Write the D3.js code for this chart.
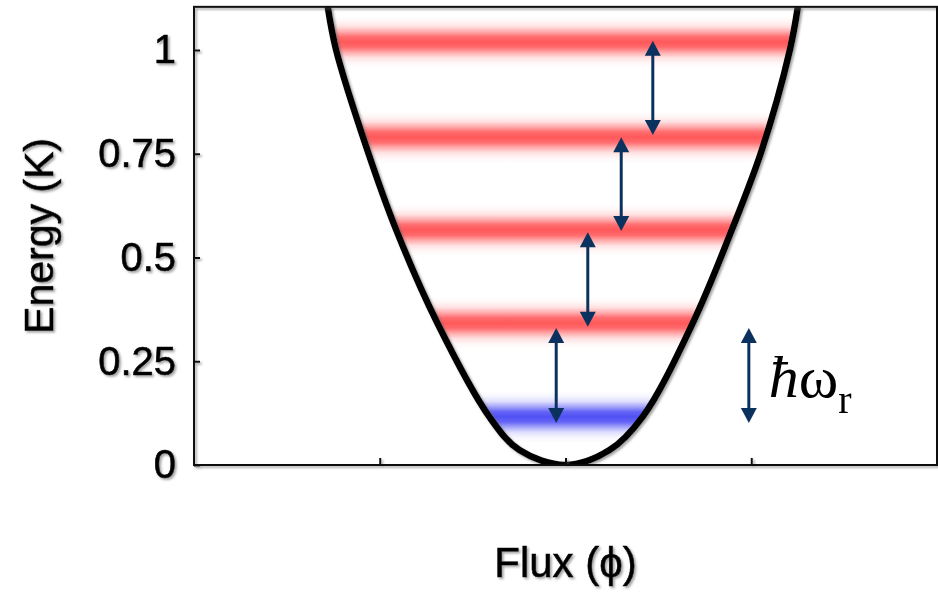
<!DOCTYPE html>
<html>
<head>
<meta charset="utf-8">
<script src="https://cdn.jsdelivr.net/npm/d3@7"></script>
<style>
  body { margin: 0; background: #fff; }
  svg { display: block; }
</style>
</head>
<body>
<div id="chart"></div>
<script>
// potential curve (flux, energy)
var curveFlux   = [-1.28, -1.235, -1.067, -0.911, -0.69, -0.41, -0.248, 0, 0.237, 0.415, 0.685, 0.895, 1.057, 1.208, 1.251];
var curveEnergy = [1.104, 1.0, 0.759, 0.566, 0.342, 0.116, 0.036, 0, 0.036, 0.116, 0.342, 0.566, 0.759, 1.0, 1.104];

// energy levels (first one is the ground state, drawn in blue)
var levels = [0.116, 0.342, 0.566, 0.790, 1.019];
var levelKind = ["ground", "excited", "excited", "excited", "excited"];

// transition arrows between neighbouring levels
var arrowFlux = [-0.05, 0.12, 0.30, 0.47];
var arrowFrom = [0.101, 0.333, 0.564, 0.795];
var arrowTo   = [0.330, 0.561, 0.790, 1.022];

// the lone arrow next to the hbar omega label
var keyFlux = 0.987, keyFrom = 0.101, keyTo = 0.330;

var yTicks = [0, 0.25, 0.5, 0.75, 1];
var xTicks = [-1, 0, 1];
var xDomain = [-2, 2], yMax = 1.104;

var width = 938, height = 600;

var svg = d3.select("#chart").append("svg")
    .attr("width", width)
    .attr("height", height);

var x = d3.scaleLinear().domain(xDomain).range([194, 937]);
var y = d3.scaleLinear().domain([0, 1]).range([465, 50]);

var defs = svg.append("defs");

// grey shadow used on the axes, curve and labels
var shadow = defs.append("filter")
    .attr("id", "shadow")
    .attr("filterUnits", "userSpaceOnUse")
    .attr("x", 0).attr("y", 0)
    .attr("width", width).attr("height", height);
shadow.append("feDropShadow")
    .attr("dx", 1.8).attr("dy", 1.8)
    .attr("stdDeviation", 0.8)
    .attr("flood-color", "#666")
    .attr("flood-opacity", 0.6);

// vertical fades for the bands
var bandColors = { ground: "#5050f5", excited: "#ff585a" };
var bandStops = [[0, 0], [0.1, 0.05], [0.2, 0.18], [0.3, 0.5], [0.4, 0.88], [0.5, 1],
                 [0.6, 0.88], [0.7, 0.5], [0.8, 0.18], [0.9, 0.05], [1, 0]];
Object.keys(bandColors).forEach(function(k) {
  var g = defs.append("linearGradient")
      .attr("id", "band-" + k)
      .attr("x1", 0).attr("y1", 0).attr("x2", 0).attr("y2", 1);
  bandStops.forEach(function(s) {
    g.append("stop")
      .attr("offset", s[0])
      .attr("stop-color", bandColors[k])
      .attr("stop-opacity", s[1]);
  });
});

var pts = curveFlux.map(function(f, i) { return [f, curveEnergy[i]]; });

var line = d3.line()
    .x(function(d) { return x(d[0]); })
    .y(function(d) { return y(d[1]); })
    .curve(d3.curveCatmullRom.alpha(0.5));

// inside of the well, bands are clipped to it
defs.append("clipPath")
    .attr("id", "well")
  .append("path")
    .attr("d", line(pts) + "Z");

defs.append("clipPath")
    .attr("id", "plot")
  .append("rect")
    .attr("x", x(xDomain[0])).attr("y", y(yMax))
    .attr("width", x(xDomain[1]) - x(xDomain[0]))
    .attr("height", y(0) - y(yMax));

var bandH = 52;
svg.append("g")
    .attr("clip-path", "url(#well)")
  .selectAll("rect")
  .data(levels)
  .join("rect")
    .attr("x", x(xDomain[0]))
    .attr("width", x(xDomain[1]) - x(xDomain[0]))
    .attr("y", function(d) { return y(d) - bandH / 2; })
    .attr("height", bandH)
    .attr("fill", function(d, i) { return "url(#band-" + levelKind[i] + ")"; });

// the well itself
svg.append("g")
    .attr("clip-path", "url(#plot)")
  .append("path")
    .attr("filter", "url(#shadow)")
    .attr("d", line(pts))
    .attr("fill", "none")
    .attr("stroke", "#000")
    .attr("stroke-width", 6.5)
    .attr("stroke-linejoin", "round");

// axes: left with labels, bottom ticks only, plus the top/right frame
var frame = svg.append("g").attr("filter", "url(#shadow)");
var sans = "'Liberation Sans', Arial, sans-serif";

frame.append("rect")
    .attr("x", x(xDomain[0])).attr("y", y(yMax))
    .attr("width", x(xDomain[1]) - x(xDomain[0]))
    .attr("height", y(0) - y(yMax))
    .attr("fill", "none")
    .attr("stroke", "#111")
    .attr("stroke-width", 2);

var yAxis = d3.axisLeft(y)
    .tickValues(yTicks)
    .tickSizeInner(-6)
    .tickSizeOuter(0)
    .tickPadding(18)
    .tickFormat(d3.format(""));

var gy = frame.append("g")
    .attr("transform", "translate(" + x(xDomain[0]) + ",0)")
    .call(yAxis);
gy.select(".domain").remove();
gy.selectAll("line").attr("stroke", "#111").attr("stroke-width", 2);
gy.selectAll("text")
    .attr("font-family", sans)
    .attr("font-size", 40)
    .attr("fill", "#000")
    .attr("stroke", "#000")
    .attr("stroke-width", 0.6);

var xAxis = d3.axisBottom(x)
    .tickValues(xTicks)
    .tickSizeInner(-7)
    .tickSizeOuter(0)
    .tickFormat("");

var gx = frame.append("g")
    .attr("transform", "translate(0," + y(0) + ")")
    .call(xAxis);
gx.select(".domain").remove();
gx.selectAll("line").attr("stroke", "#111").attr("stroke-width", 2);

// axis titles
frame.append("text")
    .attr("transform", "translate(53," + ((y(0) + y(yMax)) / 2) + ")rotate(-90)")
    .attr("text-anchor", "middle")
    .attr("font-family", sans)
    .attr("font-size", 41)
    .attr("stroke", "#000")
    .attr("stroke-width", 0.6)
    .text("Energy (K)");

frame.append("text")
    .attr("x", x(0))
    .attr("y", 577)
    .attr("text-anchor", "middle")
    .attr("font-family", sans)
    .attr("font-size", 42)
    .attr("stroke", "#000")
    .attr("stroke-width", 0.6)
    .text("Flux (\u03D5)");

// double-headed arrows
var arrowColor = "#0b325e";
function drawArrow(g, f, e0, e1) {
  var cx = x(f), yb = y(e0), yt = y(e1), hw = 8, hh = 15;
  g.append("line")
      .attr("x1", cx).attr("x2", cx)
      .attr("y1", yt + hh - 2).attr("y2", yb - hh + 2)
      .attr("stroke", arrowColor)
      .attr("stroke-width", 3);
  g.append("path")
      .attr("d", "M" + cx + "," + yt + "L" + (cx + hw) + "," + (yt + hh) + "L" + (cx - hw) + "," + (yt + hh) + "Z")
      .attr("fill", arrowColor);
  g.append("path")
      .attr("d", "M" + cx + "," + yb + "L" + (cx + hw) + "," + (yb - hh) + "L" + (cx - hw) + "," + (yb - hh) + "Z")
      .attr("fill", arrowColor);
}

var arrows = svg.append("g");
arrowFlux.forEach(function(f, i) { drawArrow(arrows, f, arrowFrom[i], arrowTo[i]); });
drawArrow(arrows, keyFlux, keyFrom, keyTo);

// hbar omega_r label
var key = svg.append("text")
    .attr("x", x(keyFlux) + 20)
    .attr("y", 397)
    .attr("font-family", "'Liberation Serif', 'Times New Roman', serif")
    .attr("font-size", 60)
    .attr("fill", "#000");
key.append("tspan").attr("font-style", "italic").text("\u0127");
key.append("tspan").text("\u03C9");
key.append("tspan")
    .attr("font-size", 40)
    .attr("dy", 16)
    .text("r");
</script>
</body>
</html>
